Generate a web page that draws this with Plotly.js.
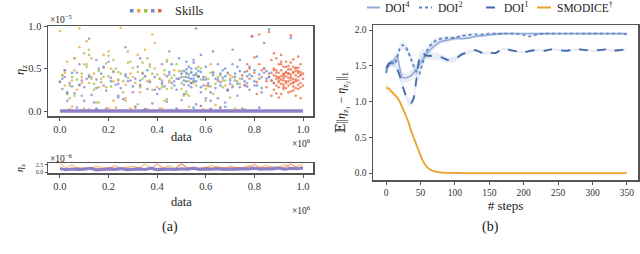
<!DOCTYPE html>
<html>
<head>
<meta charset="utf-8">
<script src="https://cdn.plot.ly/plotly-3.0.1.min.js"></script>
<style>html,body{margin:0;padding:0;background:#fff;}#chart{width:640px;height:254px;}</style>
</head>
<body>
<div id="chart"></div>
<script>
// ---------- Panel (a): skill distribution scatter (x in units of 1e6, y in units of 1e-5) ----------
const skillColors = ["#5b8bd0", "#eba23a", "#9bc04c", "#8f7fc8", "#f0643c"];

const blueX = [0.01,0.03,0.05,0.08,0.10,0.12,0.15,0.18,0.21,0.24,0.27,0.30,0.33,0.36,0.39,0.42,0.44,0.46,0.48,0.49,0.50,0.51,0.52,0.52,0.53,0.53,0.54,0.54,0.55,0.55,0.56,0.56,0.57,0.58,0.59,0.60,0.61,0.62,0.63,0.64,0.65,0.66,0.67,0.68,0.69,0.70,0.71,0.72,0.73,0.74,0.75,0.76,0.77,0.78,0.79,0.80,0.81,0.82,0.83,0.84,0.85,0.86,0.87,0.88,0.58,0.63,0.71,0.79,0.84,0.95,
  0.50,0.51,0.52,0.53,0.54,0.55,0.56,0.57,0.58,0.59,0.52,0.54,0.56,0.72,0.74,0.76,0.78,0.80,0.82,0.84,0.86,0.73,0.77,0.81,0.85,0.87,0.66,0.68,0.47,0.45,
  0.15,0.35,0.55,0.62,0.68,0.75,0.82];
const blueY = [0.38,0.22,0.45,0.31,0.12,0.40,0.27,0.52,0.35,0.18,0.43,0.29,0.36,0.48,0.25,0.33,0.41,0.55,0.38,0.62,0.44,0.36,0.49,0.40,0.52,0.30,0.45,0.38,0.57,0.42,0.97,0.35,0.47,0.28,0.40,0.52,0.33,0.22,0.45,0.38,0.15,0.30,0.48,0.41,0.25,0.36,0.55,0.44,0.32,0.60,0.38,0.46,0.29,0.52,0.41,0.35,0.64,0.43,0.27,0.50,0.38,0.96,0.45,0.33,0.66,0.70,0.72,0.88,0.80,0.86,
  0.40,0.47,0.35,0.43,0.50,0.38,0.44,0.41,0.46,0.37,0.58,0.33,0.50,0.40,0.47,0.35,0.43,0.48,0.38,0.45,0.40,0.52,0.41,0.30,0.47,0.36,0.44,0.50,0.30,0.46,
  0.03,0.02,0.04,0.02,0.05,0.03,0.04];

const orangeX = [0.00,0.01,0.02,0.03,0.04,0.05,0.06,0.07,0.08,0.09,0.10,0.11,0.12,0.13,0.14,0.15,0.17,0.18,0.19,0.20,0.22,0.23,0.24,0.25,0.27,0.28,0.29,0.30,0.32,0.33,0.34,0.35,0.37,0.38,0.39,0.40,0.42,0.43,0.44,0.45,0.47,0.48,0.49,0.50,0.52,0.53,0.55,0.57,0.59,0.60,0.61,0.62,0.63,0.65,0.66,0.68,0.70,0.72,0.74,0.76,0.05,0.12,0.20,0.26,0.31,0.36,0.41,0.46,0.58,0.64,
  0.02,0.06,0.09,0.13,0.16,0.21,0.24,0.29,0.33,0.37,0.41,0.44,0.49,0.53,0.56,0.60,0.67,0.71,0.03,0.11,0.18,0.27,0.35,0.43,0.51,0.62,0.69,0.08,0.22,0.39];
const orangeY = [0.94,0.42,0.30,0.58,0.02,0.36,0.48,0.25,0.97,0.40,0.03,0.55,0.33,0.62,0.44,0.02,0.38,0.51,0.28,0.70,0.35,0.04,0.46,0.98,0.31,0.57,0.03,0.40,0.66,0.22,0.45,0.02,0.36,0.90,0.50,0.28,0.03,0.43,0.60,0.34,0.48,0.02,0.38,0.26,0.44,0.05,0.33,0.52,0.02,0.40,0.29,0.03,0.46,0.35,0.04,0.30,0.42,0.03,0.38,0.02,0.05,0.02,0.03,0.01,0.04,0.02,0.03,0.01,0.06,0.07,
  0.45,0.62,0.33,0.40,0.28,0.50,0.36,0.44,0.31,0.55,0.38,0.26,0.47,0.35,0.42,0.30,0.36,0.40,0.20,0.82,0.66,0.15,0.72,0.12,0.18,0.55,0.25,0.75,0.12,0.80];

const greenX = [0.00,0.02,0.03,0.05,0.06,0.08,0.09,0.11,0.12,0.13,0.14,0.16,0.17,0.19,0.20,0.21,0.23,0.24,0.25,0.26,0.28,0.29,0.31,0.32,0.33,0.35,0.36,0.37,0.38,0.40,0.41,0.42,0.43,0.45,0.46,0.47,0.48,0.50,0.51,0.52,0.54,0.55,0.56,0.57,0.58,0.60,0.61,0.62,0.64,0.65,0.67,0.68,0.69,0.71,0.73,0.04,0.10,0.15,0.22,0.27,0.34,0.44,0.53,0.63,0.70,
  0.01,0.04,0.07,0.10,0.14,0.18,0.22,0.26,0.30,0.34,0.38,0.42,0.46,0.50,0.54,0.58,0.62,0.66,0.70,0.74,0.12,0.20,0.28,0.36,0.44,0.52,0.60,0.06,0.16,0.32];
const greenY = [0.35,0.48,0.20,0.40,0.62,0.30,0.44,0.52,0.66,0.38,0.25,0.47,0.34,0.56,0.41,0.29,0.50,0.37,0.44,0.22,0.39,0.58,0.33,0.46,0.28,0.41,0.35,0.52,0.25,0.43,0.38,0.31,0.48,0.36,0.27,0.42,0.55,0.33,0.40,0.23,0.46,0.35,0.30,0.41,0.50,0.26,0.38,0.45,0.32,0.40,0.28,0.36,0.44,0.30,0.35,0.15,0.68,0.10,0.60,0.12,0.57,0.14,0.18,0.20,0.16,
  0.42,0.30,0.37,0.55,0.32,0.40,0.47,0.35,0.51,0.38,0.44,0.28,0.39,0.47,0.33,0.37,0.29,0.42,0.38,0.32,0.72,0.65,0.70,0.62,0.58,0.20,0.12,0.18,0.10,0.08];

const purpleX = [0.01,0.02,0.04,0.06,0.07,0.09,0.10,0.12,0.13,0.15,0.16,0.18,0.19,0.21,0.22,0.24,0.25,0.27,0.28,0.30,0.31,0.33,0.34,0.36,0.37,0.39,0.40,0.42,0.43,0.45,0.46,0.48,0.49,0.51,0.52,0.54,0.55,0.57,0.58,0.60,0.61,0.63,0.64,0.66,0.67,0.69,0.70,0.72,0.74,0.76,0.78,0.03,0.08,0.14,0.20,0.26,0.32,0.38,0.44,0.50,0.56,0.62,0.68,0.80,0.83,
  0.00,0.05,0.11,0.17,0.23,0.29,0.35,0.41,0.47,0.53,0.59,0.65,0.71,0.77,0.02,0.09,0.15,0.24,0.33,0.42,0.51,0.60,0.69,0.73,0.86,0.12,0.27,0.45,0.55,0.65,
  0.07,0.19,0.31,0.48,0.58,0.66];
const purpleY = [0.26,0.40,0.33,0.21,0.45,0.36,0.28,0.42,0.19,0.37,0.50,0.30,0.24,0.39,0.46,0.32,0.27,0.41,0.35,0.22,0.38,0.30,0.44,0.26,0.34,0.40,0.20,0.36,0.29,0.43,0.33,0.25,0.38,0.31,0.45,0.28,0.35,0.40,0.22,0.37,0.30,0.42,0.27,0.34,0.39,0.24,0.32,0.36,0.28,0.31,0.25,0.12,0.55,0.10,0.58,0.14,0.52,0.09,0.11,0.13,0.08,0.12,0.10,0.30,0.22,
  0.34,0.29,0.38,0.44,0.31,0.36,0.41,0.26,0.35,0.39,0.30,0.37,0.28,0.33,0.48,0.18,0.60,0.16,0.62,0.55,0.20,0.15,0.45,0.18,0.40,0.85,0.75,0.70,0.60,0.55,
  0.04,0.03,0.05,0.03,0.06,0.04];

const redX = [0.75,0.76,0.77,0.78,0.79,0.80,0.81,0.82,0.83,0.84,0.85,0.86,0.87,0.87,0.88,0.88,0.88,0.89,0.89,0.89,0.90,0.90,0.90,0.90,0.91,0.91,0.91,0.91,0.92,0.92,0.92,0.92,0.93,0.93,0.93,0.93,0.94,0.94,0.94,0.94,0.95,0.95,0.95,0.95,0.96,0.96,0.96,0.96,0.97,0.97,0.97,0.97,0.98,0.98,0.98,0.98,0.99,0.99,0.99,1.00,1.00,0.89,0.91,0.93,0.95,0.97,0.99,0.90,0.92,0.94,0.96,0.98,0.88,0.92,0.96,0.80,0.83,0.86,0.78,0.82,
  0.88,0.89,0.90,0.91,0.92,0.93,0.94,0.95,0.96,0.97,0.98,0.99,0.88,0.89,0.90,0.91,0.92,0.93,0.94,0.95,0.96,0.97,0.98,0.99,0.89,0.91,0.93,0.95,0.97,0.99,0.90,0.92,0.94,0.96,0.98,1.00,0.87,0.85,0.81,0.77];
const redY = [0.42,0.30,0.55,0.38,0.88,0.45,0.34,0.90,0.40,0.50,0.28,0.44,0.36,0.60,0.42,0.25,0.50,0.38,0.62,0.30,0.45,0.34,0.55,0.40,0.48,0.20,0.37,0.66,0.43,0.31,0.52,0.39,0.46,0.27,0.58,0.41,0.35,0.49,0.22,0.44,0.40,0.57,0.32,0.89,0.46,0.29,0.38,0.61,0.42,0.18,0.51,0.35,0.40,0.64,0.26,0.47,0.33,0.55,0.15,0.38,0.44,0.48,0.58,0.33,0.37,0.50,0.43,0.16,0.42,0.53,0.24,0.36,0.68,0.28,0.45,0.63,0.48,0.93,0.50,0.55,
  0.33,0.45,0.28,0.41,0.36,0.52,0.30,0.43,0.34,0.47,0.31,0.42,0.48,0.21,0.39,0.55,0.26,0.35,0.44,0.23,0.52,0.37,0.45,0.28,0.41,0.32,0.45,0.49,0.27,0.46,0.36,0.44,0.39,0.33,0.51,0.30,0.18,0.35,0.20,0.47];

// near-zero mass (dense band at y = 0)
const zeroX = [0.0, 1.0];
const zeroY = [0.0, 0.0];

// ---------- Panel (a) bottom: y in units of 1e-6 ----------
const bottomX = [0.00,0.025,0.05,0.075,0.10,0.125,0.15,0.175,0.20,0.225,0.25,0.275,0.30,0.325,0.35,0.375,0.40,0.425,0.45,0.475,0.50,0.525,0.55,0.575,0.60,0.625,0.65,0.675,0.70,0.725,0.75,0.775,0.80,0.825,0.85,0.875,0.90,0.925,0.95,0.975,1.00];
const bottomPurple = [1.2,0.8,1.1,0.9,1.0,1.3,0.7,1.0,1.1,0.9,1.2,0.8,1.0,1.1,0.9,1.3,0.8,1.0,1.1,0.9,1.2,1.0,1.3,0.9,1.1,1.0,1.2,0.9,1.1,1.0,1.2,1.1,1.3,1.0,1.2,1.1,1.4,1.0,1.3,1.2,1.4];
const bottomOrange = [3.0,1.5,2.6,1.3,1.6,1.4,2.0,1.5,1.3,2.3,1.4,1.6,2.0,1.4,2.8,1.5,1.3,1.6,2.2,1.4,3.0,1.5,1.8,1.4,1.6,2.4,1.5,1.4,2.0,1.6,1.5,2.2,1.6,1.7,2.5,1.5,1.8,2.7,1.6,2.0,3.0];
const bottomRed = [1.4,1.2,1.3,1.5,1.2,1.4,1.3,1.2,1.6,1.3,1.2,1.4,1.3,1.5,1.2,1.3,2.9,1.4,1.2,1.3,2.8,1.4,1.5,1.3,1.6,1.4,1.8,1.5,1.4,1.6,1.5,1.7,2.6,1.5,1.6,1.8,1.6,1.7,2.9,1.6,1.8];

// ---------- Panel (b): distance vs steps ----------
const steps = [0,4,8,12,16,20,24,28,32,36,40,44,48,52,56,60,64,68,72,76,80,90,100,110,120,130,140,150,160,170,180,190,200,210,220,230,240,250,260,270,280,290,300,310,320,330,340,350];
const doi4 = [1.42,1.50,1.54,1.58,1.64,1.46,1.34,1.33,1.34,1.36,1.40,1.45,1.51,1.57,1.63,1.68,1.72,1.76,1.79,1.82,1.84,1.86,1.88,1.88,1.89,1.91,1.92,1.93,1.94,1.95,1.95,1.95,1.95,1.95,1.95,1.95,1.95,1.95,1.95,1.95,1.95,1.95,1.95,1.95,1.95,1.95,1.95,1.95];
const doi4Std = [0.05,0.05,0.05,0.06,0.07,0.08,0.08,0.07,0.07,0.07,0.07,0.07,0.07,0.07,0.06,0.06,0.05,0.05,0.04,0.04,0.04,0.03,0.03,0.02,0.02,0.02,0.02,0.015,0.015,0.015,0.01,0.01,0.01,0.01,0.01,0.01,0.01,0.01,0.01,0.01,0.01,0.01,0.01,0.01,0.01,0.01,0.01,0.01];
const doi2 = [1.40,1.52,1.55,1.52,1.60,1.74,1.79,1.77,1.70,1.60,1.50,1.42,1.38,1.50,1.62,1.72,1.78,1.82,1.85,1.87,1.88,1.89,1.89,1.92,1.93,1.94,1.94,1.95,1.95,1.95,1.95,1.95,1.93,1.91,1.94,1.95,1.95,1.95,1.95,1.95,1.95,1.95,1.95,1.95,1.95,1.95,1.95,1.94];
const doi2Std = [0.04,0.04,0.04,0.05,0.05,0.06,0.06,0.06,0.06,0.07,0.08,0.08,0.08,0.07,0.06,0.05,0.05,0.04,0.04,0.03,0.03,0.03,0.02,0.02,0.02,0.02,0.015,0.015,0.015,0.015,0.01,0.01,0.01,0.01,0.01,0.01,0.01,0.01,0.01,0.01,0.01,0.01,0.01,0.01,0.01,0.01,0.01,0.01];
const doi1 = [1.46,1.53,1.54,1.52,1.46,1.36,1.22,1.10,1.01,0.98,1.04,1.30,1.58,1.68,1.66,1.64,1.64,1.63,1.63,1.63,1.62,1.58,1.59,1.66,1.69,1.72,1.68,1.68,1.68,1.74,1.72,1.70,1.69,1.71,1.72,1.71,1.73,1.72,1.71,1.72,1.73,1.72,1.71,1.72,1.73,1.71,1.72,1.73];
const doi1Std = [0.04,0.04,0.04,0.05,0.06,0.06,0.06,0.06,0.05,0.05,0.06,0.09,0.09,0.06,0.05,0.05,0.05,0.05,0.05,0.04,0.04,0.04,0.04,0.03,0.03,0.02,0.02,0.02,0.02,0.02,0.02,0.015,0.015,0.015,0.02,0.015,0.015,0.015,0.015,0.015,0.015,0.015,0.015,0.015,0.015,0.015,0.015,0.015];
const smodice = [1.19,1.18,1.14,1.10,1.06,1.00,0.91,0.82,0.73,0.60,0.50,0.40,0.30,0.20,0.13,0.08,0.05,0.03,0.02,0.012,0.008,0.004,0.002,0,0,0,0,0,0,0,0,0,0,0,0,0,0,0,0,0,0,0,0,0,0,0,0,0];
const smodiceStd = [0.05,0.05,0.04,0.04,0.03,0.03,0.03,0.02,0.02,0.02,0.02,0.015,0.015,0.015,0.01,0.01,0.01,0.01,0.005,0.005,0.005,0.004,0.004,0.004,0.004,0.004,0.004,0.004,0.004,0.004,0.004,0.004,0.004,0.004,0.004,0.004,0.004,0.004,0.004,0.004,0.004,0.004,0.004,0.004,0.004,0.004,0.004,0.004];

const seriesNames = ["DOI<sup>4</sup>", "DOI<sup>2</sup>", "DOI<sup>1</sup>", "SMODICE<sup>†</sup>"];
const seriesColors = ["#94abd9", "#5f84c8", "#4169b0", "#eba22e"];
const seriesDash = ["solid", "dot", "dash", "solid"];

// ---------- build ----------
const FONT = "Liberation Serif, DejaVu Serif, serif";
const W = 640, H = 254;
const PX = x => x / W, PY = y => 1 - y / H;

const traces = [];
function scat(x, y, c) {
  traces.push({x, y, type: "scatter", mode: "markers", xaxis: "x", yaxis: "y", showlegend: false,
    marker: {color: c, size: 2.6, opacity: 0.75, line: {width: 0}}, hoverinfo: "skip"});
}
scat(orangeX, orangeY, skillColors[1]);
scat(greenX, greenY, skillColors[2]);
scat(purpleX, purpleY, skillColors[3]);
scat(blueX, blueY, skillColors[0]);
scat(redX, redY, skillColors[4]);
traces.push({x: zeroX, y: zeroY, type: "scatter", mode: "lines", xaxis: "x", yaxis: "y", showlegend: false,
  line: {color: skillColors[3], width: 3.5}});

// bottom
[[bottomOrange, skillColors[1]], [bottomRed, skillColors[4]], [bottomPurple, skillColors[3]]].forEach(([v, c], i) => {
  traces.push({x: bottomX, y: v, type: "scatter", mode: "lines", xaxis: "x2", yaxis: "y2", showlegend: false,
    line: {color: c, width: i === 2 ? 3 : 0.8}});
});

// panel b bands then lines
const means = [doi4, doi2, doi1, smodice];
const stds = [doi4Std, doi2Std, doi1Std, smodiceStd];
const bandColors = ["rgba(148,171,217,0.2)", "rgba(95,132,200,0.12)", "rgba(65,105,176,0.12)", "rgba(235,162,46,0.15)"];
means.forEach((m, i) => {
  traces.push({x: steps, y: m.map((v, k) => v - stds[i][k]), type: "scatter", mode: "lines", xaxis: "x3", yaxis: "y3",
    line: {width: 0, color: "rgba(0,0,0,0)", shape: "spline", smoothing: 0.6}, showlegend: false, hoverinfo: "skip"});
  traces.push({x: steps, y: m.map((v, k) => v + stds[i][k]), type: "scatter", mode: "lines", xaxis: "x3", yaxis: "y3",
    fill: "tonexty", fillcolor: bandColors[i], line: {width: 0, color: "rgba(0,0,0,0)", shape: "spline", smoothing: 0.6}, showlegend: false, hoverinfo: "skip"});
});
means.forEach((m, i) => {
  traces.push({x: steps, y: m, type: "scatter", mode: "lines", xaxis: "x3", yaxis: "y3", name: seriesNames[i],
    showlegend: false, line: {color: seriesColors[i], width: i === 0 ? 1.6 : 1.8, dash: seriesDash[i], shape: "spline", smoothing: 0.6}});
});

const axBase = {showgrid: false, zeroline: false, showline: true, mirror: true, linecolor: "#555", linewidth: 1.5,
  ticks: "outside", ticklen: 3, tickwidth: 1, tickcolor: "#555", color: "#333"};
const tfL = {family: FONT, size: 10.5, color: "#333"};
const tfR = {family: FONT, size: 9.5, color: "#333"};

const layout = {
  width: W, height: H, margin: {l: 0, r: 0, t: 0, b: 0}, paper_bgcolor: "#fff", plot_bgcolor: "#fff",
  showlegend: false, font: {family: FONT},
  xaxis: Object.assign({}, axBase, {domain: [PX(48), PX(313)], range: [-0.049, 1.041], anchor: "y",
    tickvals: [0, 0.2, 0.4, 0.6, 0.8, 1.0], tickformat: ".1f", tickfont: tfL}),
  yaxis: Object.assign({}, axBase, {domain: [PY(116), PY(26)], range: [-0.058, 1.0], anchor: "x",
    tickvals: [0, 0.5, 1.0], tickformat: ".1f", tickfont: tfL}),
  xaxis2: Object.assign({}, axBase, {domain: [PX(48), PX(313)], range: [-0.049, 1.041], anchor: "y2",
    tickvals: [0, 0.2, 0.4, 0.6, 0.8, 1.0], tickformat: ".1f", tickfont: tfL}),
  yaxis2: Object.assign({}, axBase, {domain: [PY(173.3), PY(163.3)], range: [-0.46, 3.1], anchor: "x2",
    tickvals: [0, 2.5], tickformat: ".1f", ticklen: 2, tickfont: {family: FONT, size: 6, color: "#333"}}),
  xaxis3: Object.assign({}, axBase, {domain: [PX(373), PX(638)], range: [-18.9, 366], anchor: "y3",
    tickvals: [0, 50, 100, 150, 200, 250, 300, 350], tickfont: tfR,
    title: {text: "# steps", font: {family: FONT, size: 13, color: "#222"}, standoff: 4}}),
  yaxis3: Object.assign({}, axBase, {domain: [PY(180), PY(25)], range: [-0.097, 2.07], anchor: "x3",
    tickvals: [0, 0.5, 1.0, 1.5, 2.0], tickformat: ".1f", tickfont: tfR,
    title: {text: "𝔼||<i>η</i><sub>z₁</sub> − <i>η</i><sub>z₂</sub>||<sub>1</sub>", font: {family: FONT, size: 12, color: "#222"}, standoff: 6}}),
  shapes: [],
  annotations: []
};

function ann(text, x, y, size, xanchor, angle) {
  layout.annotations.push({text, x: PX(x), y: PY(y), xref: "paper", yref: "paper", showarrow: false,
    xanchor: xanchor || "center", yanchor: "middle", textangle: angle || 0, font: {family: FONT, size, color: "#222"}});
}
// axis titles for panel (a)
ann("data", 181, 137, 12.5);
ann("data", 181, 202, 12.5);
ann("<i>η</i><sub>z</sub>", 21, 70, 12.5, "center", -90);
ann("<i>η</i><sub>z</sub>", 20, 168, 10, "center", -90);
// exponent labels
ann("×10<sup>−5</sup>", 48, 19, 9.5, "left");
ann("×10<sup>6</sup>", 313, 143, 9.5, "right");
ann("×10<sup>−6</sup>", 48, 158, 9.5, "left");
ann("×10<sup>6</sup>", 313, 210, 9.5, "right");
ann("(a)", 170, 227, 14);
ann("(b)", 490, 227, 14);

// legend (a): colored squares + "Skills"
skillColors.forEach((c, i) => {
  const x0 = 130 + i * 7;
  layout.shapes.push({type: "rect", xref: "paper", yref: "paper", x0: PX(x0), x1: PX(x0 + 3.5), y0: PY(12.5), y1: PY(9),
    fillcolor: c, line: {width: 0}});
});
ann("Skills", 173, 11, 12.5, "left");

// legend (b)
const legLine = [[367, 380], [419, 432], [486, 498], [537, 551]];
const legText = [383, 436, 502, 555];
seriesNames.forEach((n, i) => {
  layout.shapes.push({type: "line", xref: "paper", yref: "paper", x0: PX(legLine[i][0]), x1: PX(legLine[i][1]),
    y0: PY(7.5), y1: PY(7.5), line: {color: seriesColors[i], width: 2, dash: seriesDash[i]}});
  ann(n, legText[i], 7, 11.5, "left");
});

Plotly.newPlot("chart", traces, layout, {staticPlot: true, displayModeBar: false});
</script>
</body>
</html>
